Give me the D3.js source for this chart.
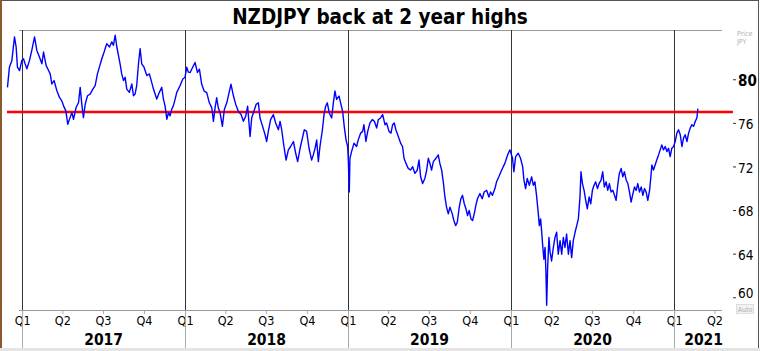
<!DOCTYPE html>
<html>
<head>
<meta charset="utf-8">
<script src="https://cdn.jsdelivr.net/npm/d3@7"></script>
<style>
  body { margin: 0; background: #fff; }
  svg { display: block; font-family: "DejaVu Sans Condensed", "DejaVu Sans", sans-serif; }
</style>
</head>
<body>
<svg width="760" height="351"></svg>
<script>
const chartTitle = "NZDJPY back at 2 year highs";
const yearLabels = [2017, 2018, 2019, 2020, 2021];
const quarterNames = ["Q1", "Q2", "Q3", "Q4"];
const priceTicks = [60, 64, 68, 72, 76, 80];
const resistanceLevel = 77.0;

// NZDJPY, [time as fraction of year, price in JPY]
const nzdjpy = [
  [2016.910, 79.26], [2016.922, 81.11], [2016.937, 81.73], [2016.953, 83.89], [2016.963, 82.96],
  [2016.971, 81.11], [2016.984, 80.80], [2016.998, 81.73], [2017.008, 81.88], [2017.018, 81.42],
  [2017.029, 80.96], [2017.045, 81.73], [2017.059, 82.65], [2017.076, 83.89], [2017.090, 82.65],
  [2017.106, 82.04], [2017.121, 81.42], [2017.131, 82.50], [2017.147, 81.27], [2017.162, 80.80],
  [2017.172, 80.49], [2017.182, 79.57], [2017.196, 79.88], [2017.213, 78.95], [2017.229, 78.33],
  [2017.243, 78.02], [2017.254, 77.56], [2017.268, 77.10], [2017.280, 75.86], [2017.294, 76.48],
  [2017.305, 76.94], [2017.315, 76.33], [2017.331, 77.41], [2017.346, 77.87], [2017.356, 79.26],
  [2017.366, 77.72], [2017.376, 76.48], [2017.387, 77.72], [2017.401, 78.49], [2017.417, 78.64],
  [2017.434, 79.10], [2017.448, 79.41], [2017.462, 80.49], [2017.474, 81.11], [2017.489, 81.88],
  [2017.503, 82.50], [2017.519, 83.27], [2017.536, 82.96], [2017.550, 83.43], [2017.560, 83.12],
  [2017.571, 84.04], [2017.581, 82.96], [2017.591, 82.19], [2017.601, 81.42], [2017.611, 80.49],
  [2017.622, 79.88], [2017.632, 80.19], [2017.642, 79.10], [2017.658, 78.80], [2017.673, 79.57],
  [2017.683, 78.49], [2017.693, 78.64], [2017.703, 79.41], [2017.714, 81.42], [2017.724, 82.81],
  [2017.734, 81.42], [2017.748, 81.11], [2017.765, 80.34], [2017.781, 80.49], [2017.795, 79.72],
  [2017.806, 79.10], [2017.816, 78.64], [2017.826, 78.18], [2017.842, 78.80], [2017.857, 79.26],
  [2017.867, 78.18], [2017.877, 77.56], [2017.888, 76.33], [2017.898, 76.94], [2017.908, 76.64],
  [2017.918, 77.25], [2017.928, 77.56], [2017.939, 78.18], [2017.949, 78.80], [2017.969, 79.41],
  [2017.986, 80.03], [2018.000, 80.19], [2018.010, 81.11], [2018.020, 80.65], [2018.031, 80.62],
  [2018.061, 81.54], [2018.076, 80.62], [2018.088, 80.93], [2018.102, 79.54], [2018.117, 78.92],
  [2018.133, 78.77], [2018.149, 77.84], [2018.164, 77.38], [2018.174, 76.14], [2018.184, 77.38],
  [2018.194, 78.30], [2018.204, 77.38], [2018.215, 76.91], [2018.229, 75.68], [2018.241, 77.22],
  [2018.256, 77.84], [2018.270, 78.77], [2018.282, 79.54], [2018.297, 78.46], [2018.311, 77.69],
  [2018.327, 77.07], [2018.344, 76.76], [2018.358, 76.14], [2018.372, 76.60], [2018.384, 77.53],
  [2018.399, 74.75], [2018.409, 76.45], [2018.419, 76.91], [2018.436, 77.69], [2018.450, 77.84],
  [2018.460, 76.45], [2018.476, 75.68], [2018.491, 74.91], [2018.501, 74.29], [2018.511, 75.22],
  [2018.525, 76.30], [2018.542, 76.76], [2018.556, 75.99], [2018.573, 75.37], [2018.583, 76.14],
  [2018.593, 75.37], [2018.607, 73.83], [2018.620, 72.59], [2018.634, 73.52], [2018.648, 73.83],
  [2018.665, 74.29], [2018.679, 73.21], [2018.691, 72.44], [2018.706, 73.67], [2018.720, 74.60],
  [2018.732, 75.37], [2018.746, 75.22], [2018.761, 73.67], [2018.777, 72.59], [2018.787, 73.06],
  [2018.798, 73.67], [2018.808, 74.44], [2018.818, 72.44], [2018.828, 73.83], [2018.843, 75.37],
  [2018.853, 76.76], [2018.863, 77.53], [2018.873, 77.84], [2018.885, 76.91], [2018.900, 76.45],
  [2018.910, 77.84], [2018.920, 78.92], [2018.930, 78.15], [2018.945, 78.46], [2018.957, 77.69],
  [2018.967, 77.07], [2018.977, 75.68], [2018.988, 74.44], [2018.998, 73.83], [2019.002, 72.59],
  [2019.008, 69.66], [2019.012, 72.75], [2019.022, 73.36], [2019.037, 74.14], [2019.053, 73.83],
  [2019.063, 74.44], [2019.078, 75.06], [2019.090, 75.22], [2019.098, 75.83], [2019.110, 74.29],
  [2019.121, 75.22], [2019.135, 75.99], [2019.149, 76.30], [2019.162, 76.14], [2019.176, 75.52],
  [2019.186, 76.30], [2019.200, 76.45], [2019.213, 76.76], [2019.227, 75.83], [2019.237, 75.99],
  [2019.252, 75.22], [2019.264, 75.06], [2019.274, 75.83], [2019.284, 75.99], [2019.294, 75.37],
  [2019.309, 74.75], [2019.323, 74.14], [2019.335, 73.83], [2019.344, 72.75], [2019.356, 72.28],
  [2019.370, 71.82], [2019.384, 71.67], [2019.397, 71.98], [2019.411, 71.36], [2019.425, 71.67],
  [2019.436, 72.59], [2019.446, 71.05], [2019.458, 70.43], [2019.472, 70.90], [2019.483, 71.67],
  [2019.493, 72.75], [2019.503, 72.28], [2019.513, 71.67], [2019.524, 72.44], [2019.540, 72.75],
  [2019.554, 73.06], [2019.564, 72.28], [2019.575, 71.67], [2019.585, 70.59], [2019.595, 69.20],
  [2019.605, 68.27], [2019.616, 67.65], [2019.626, 68.27], [2019.640, 67.65], [2019.650, 67.04],
  [2019.661, 66.57], [2019.671, 66.88], [2019.683, 68.27], [2019.693, 69.04], [2019.703, 69.35],
  [2019.714, 68.58], [2019.724, 68.12], [2019.734, 67.50], [2019.744, 67.96], [2019.755, 67.19],
  [2019.765, 67.04], [2019.775, 67.65], [2019.785, 68.43], [2019.795, 69.04], [2019.810, 69.51],
  [2019.824, 69.04], [2019.836, 69.66], [2019.851, 69.81], [2019.865, 69.20], [2019.875, 69.66],
  [2019.887, 69.35], [2019.902, 69.97], [2019.912, 70.59], [2019.926, 71.05], [2019.939, 71.51],
  [2019.953, 71.98], [2019.963, 72.28], [2019.973, 72.75], [2019.984, 73.21], [2019.994, 73.52],
  [2020.010, 72.75], [2020.018, 71.51], [2020.029, 72.90], [2020.045, 73.21], [2020.059, 72.75],
  [2020.072, 71.98], [2020.080, 70.74], [2020.090, 69.97], [2020.100, 70.90], [2020.113, 70.28],
  [2020.127, 71.05], [2020.137, 70.28], [2020.147, 70.59], [2020.157, 69.35], [2020.167, 67.81],
  [2020.174, 66.57], [2020.182, 67.19], [2020.188, 66.11], [2020.194, 64.88], [2020.202, 63.49],
  [2020.209, 64.57], [2020.215, 62.10], [2020.219, 59.26], [2020.225, 62.72], [2020.233, 65.49],
  [2020.239, 64.26], [2020.249, 63.33], [2020.260, 64.57], [2020.270, 65.49], [2020.280, 65.96],
  [2020.290, 63.95], [2020.301, 65.19], [2020.311, 63.95], [2020.321, 65.49], [2020.331, 64.57],
  [2020.341, 65.80], [2020.352, 63.95], [2020.362, 65.19], [2020.372, 63.64], [2020.382, 65.19],
  [2020.393, 65.96], [2020.403, 66.57], [2020.413, 67.19], [2020.423, 69.20], [2020.429, 71.51],
  [2020.438, 70.43], [2020.448, 69.81], [2020.458, 68.89], [2020.468, 68.12], [2020.479, 69.20],
  [2020.489, 68.58], [2020.499, 69.81], [2020.509, 70.28], [2020.519, 70.59], [2020.530, 69.97],
  [2020.540, 70.43], [2020.552, 70.74], [2020.562, 71.51], [2020.572, 70.12], [2020.583, 70.59],
  [2020.593, 69.81], [2020.603, 70.43], [2020.613, 69.66], [2020.624, 69.81], [2020.634, 69.35],
  [2020.644, 68.89], [2020.654, 70.28], [2020.664, 71.36], [2020.675, 71.82], [2020.685, 71.05],
  [2020.695, 71.51], [2020.706, 70.74], [2020.716, 70.43], [2020.726, 69.66], [2020.736, 68.73],
  [2020.747, 69.51], [2020.757, 70.12], [2020.767, 69.81], [2020.777, 70.43], [2020.787, 69.66],
  [2020.798, 70.12], [2020.808, 69.35], [2020.818, 69.97], [2020.828, 69.66], [2020.838, 68.89],
  [2020.849, 69.81], [2020.857, 71.05], [2020.863, 72.13], [2020.873, 71.67], [2020.883, 72.13],
  [2020.893, 72.59], [2020.904, 73.06], [2020.914, 73.52], [2020.924, 73.98], [2020.934, 73.52],
  [2020.945, 73.83], [2020.955, 73.36], [2020.965, 73.67], [2020.975, 72.90], [2020.985, 73.67],
  [2020.996, 73.83], [2021.006, 74.29], [2021.016, 75.06], [2021.026, 75.37], [2021.037, 74.91],
  [2021.047, 73.83], [2021.057, 74.60], [2021.067, 74.91], [2021.078, 74.29], [2021.088, 75.06],
  [2021.098, 75.52], [2021.108, 75.83], [2021.119, 75.68], [2021.129, 76.14], [2021.139, 76.45],
  [2021.145, 77.30]
];

// fraction-of-year -> Date
function toDate(t) {
  const yr = Math.floor(t);
  const a = new Date(yr, 0, 1), b = new Date(yr + 1, 0, 1);
  return new Date(+a + (t - yr) * (b - a));
}

const svg = d3.select("svg");
const W = 760, H = 351;
const plot = { left: 7, right: 722, top: 30, bottom: 310, priceAxis: 733 };

const x = d3.scaleTime()
  .domain([new Date(2016, 10, 28), new Date(2021, 3, 18)])
  .range([plot.left, plot.right]);
const y = d3.scaleLinear()
  .domain([58.83, 84.52])
  .range([plot.bottom, plot.top]);

const yearStarts = yearLabels.map(yr => new Date(yr, 0, 1));
const quarterDates = d3.timeMonth.range(new Date(2017, 0, 1), new Date(2021, 3, 2), 3);

// frame
svg.append("rect").attr("x", 0.5).attr("y", 0.5).attr("width", W - 2).attr("height", H - 3)
  .attr("fill", "#fff").attr("stroke", "#555");
svg.append("line").attr("x1", 1).attr("x2", 1).attr("y1", 0).attr("y2", H)
  .attr("stroke", "#8a5a2c").attr("stroke-width", 2);
svg.append("rect").attr("x", 0).attr("y", H - 3).attr("width", W).attr("height", 3)
  .attr("fill", "#e4e4e4");

// title
svg.append("text")
  .attr("x", 380).attr("y", 24)
  .attr("text-anchor", "middle")
  .style("font-weight", "bold").style("font-size", "20.5px")
  .text(chartTitle);

// top border line of the plot
svg.append("line").attr("x1", 19).attr("x2", plot.right)
  .attr("y1", plot.top + 0.5).attr("y2", plot.top + 0.5).attr("stroke", "#999");

// year separators in the plot
svg.selectAll(".yearline").data(yearStarts).enter().append("line")
  .attr("class", "yearline")
  .attr("x1", d => Math.round(x(d)) + 0.5).attr("x2", d => Math.round(x(d)) + 0.5)
  .attr("y1", plot.top).attr("y2", plot.bottom)
  .attr("stroke", "#333");

// resistance line
svg.append("line")
  .attr("x1", plot.left).attr("x2", plot.priceAxis)
  .attr("y1", y(resistanceLevel)).attr("y2", y(resistanceLevel))
  .attr("stroke", "#ff0000").attr("stroke-width", 2.5);

// price line
const line = d3.line()
  .x(d => x(toDate(d[0])))
  .y(d => y(d[1]));
svg.append("path")
  .datum(nzdjpy)
  .attr("d", line)
  .attr("fill", "none")
  .attr("stroke", "#0000ff")
  .attr("stroke-width", 1.4)
  .attr("stroke-linejoin", "round");

// bottom axis: quarters
const xAxis = svg.append("g")
  .attr("transform", "translate(0," + plot.bottom + ")")
  .call(d3.axisBottom(x)
    .tickValues(quarterDates)
    .tickSize(4)
    .tickPadding(2)
    .tickFormat(d => quarterNames[Math.floor(d.getMonth() / 3)]));
xAxis.select(".domain").remove();
xAxis.selectAll(".tick line").attr("stroke", "#aaa");
xAxis.selectAll("text")
  .attr("fill", "#000")
  .style("font-family", "\"DejaVu Sans Condensed\", \"DejaVu Sans\", sans-serif")
  .style("font-size", "12.5px");

svg.append("line").attr("x1", 19).attr("x2", plot.right)
  .attr("y1", plot.bottom + 0.5).attr("y2", plot.bottom + 0.5).attr("stroke", "#999");

// year bands
svg.selectAll(".yearsep").data(yearStarts).enter().append("line")
  .attr("class", "yearsep")
  .attr("x1", d => Math.round(x(d)) + 0.5).attr("x2", d => Math.round(x(d)) + 0.5)
  .attr("y1", plot.bottom).attr("y2", H - 3)
  .attr("stroke", "#aaa");

svg.selectAll(".yearlabel").data(yearStarts).enter().append("text")
  .attr("class", "yearlabel")
  .attr("x", (d, i) => {
    const end = i < yearStarts.length - 1 ? x(yearStarts[i + 1]) : plot.priceAxis;
    return (x(d) + end) / 2;
  })
  .attr("y", 345)
  .attr("text-anchor", "middle")
  .style("font-weight", "bold").style("font-size", "15.5px")
  .text(d => d.getFullYear());

// right price axis
const yAxis = svg.append("g")
  .attr("transform", "translate(" + plot.priceAxis + ",0)")
  .call(d3.axisRight(y).tickValues(priceTicks).tickSize(3).tickPadding(2));
yAxis.select(".domain").remove();
yAxis.selectAll(".tick line").attr("stroke", "#333");
yAxis.selectAll("text")
  .attr("fill", "#000")
  .attr("dy", d => d === d3.min(priceTicks) ? "0.05em" : "0.42em")
  .style("font-family", "\"DejaVu Sans Condensed\", \"DejaVu Sans\", sans-serif")
  .style("font-size", d => d === 80 ? "15px" : "13.5px")
  .style("font-weight", d => d === 80 ? "bold" : "normal");

// price unit note and auto tag
svg.append("text").attr("x", 737).attr("y", 36)
  .style("font-size", "7px").attr("fill", "#b0b0b0").text("Price");
svg.append("text").attr("x", 737).attr("y", 44)
  .style("font-size", "7px").attr("fill", "#b0b0b0").text("JPY");
svg.append("rect").attr("x", 736.5).attr("y", 304.5).attr("width", 17).attr("height", 9)
  .attr("fill", "#f2f2f2").attr("stroke", "#ddd");
svg.append("text").attr("x", 745).attr("y", 311.5).attr("text-anchor", "middle")
  .style("font-size", "7px").attr("fill", "#b0b0b0").text("Auto");
</script>
</body>
</html>
